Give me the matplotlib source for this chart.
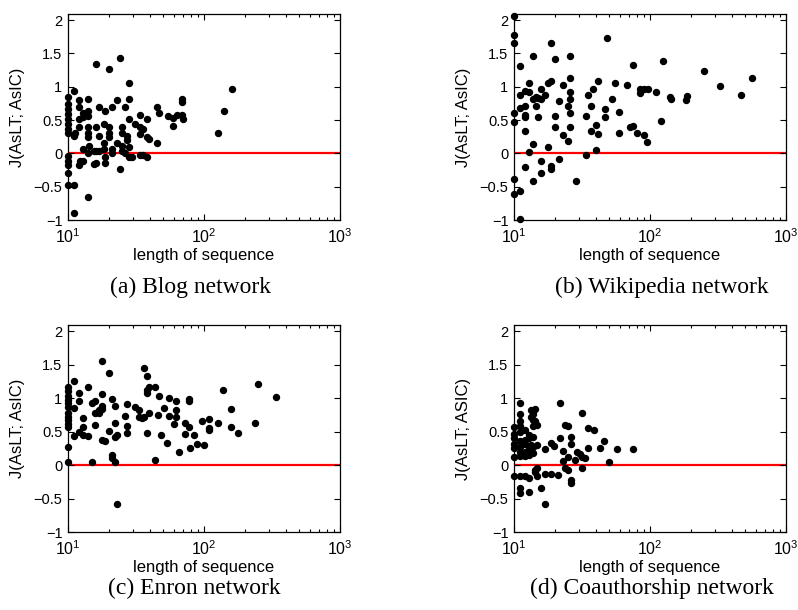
import numpy as np
import matplotlib
matplotlib.use("Agg")
import matplotlib.pyplot as plt
from matplotlib.ticker import LogLocator, FixedLocator

plt.rcParams['font.family'] = ['Liberation Sans', 'DejaVu Sans']
plt.rcParams['mathtext.default'] = 'regular'

# --- data: (length of sequence, J value) ---
blog_len = [10, 10, 10, 10, 10, 10, 10, 10, 10, 10, 10, 10, 10,
            11.0, 11.0, 11.0, 11.0, 11.2,
            12.0, 12.0, 12.0, 12.0, 12.0, 12.3,
            13.0, 13.0, 13.0, 13.0,
            14.0, 14.0, 14.0, 14.0, 14.0, 14.0, 14.0, 14.0, 14.2,
            15.4, 15.4, 16.1, 16.1, 16.1, 16.1,
            17.0, 17.0, 17.0, 18.3, 18.3, 18.3, 18.8, 18.8, 18.8,
            20.1, 20.1, 20.1, 20.1, 21.1, 21.1, 21.1, 22.9, 22.9,
            24.0, 24.0, 24.9, 24.9, 24.9, 24.9, 26.1, 26.1, 27.2, 27.2,
            28.2, 28.2, 28.2, 28.2, 28.2, 29.5, 31.2,
            34.0, 34.0, 34.0, 34.0, 35.4, 35.4, 38.1, 38.1, 38.1, 39.6,
            45.1, 45.1, 46.3, 54.7, 59.0, 58.7, 63.0,
            68.7, 68.7, 68.7, 69.5, 127, 140, 162]
blog_j = [0.84, 0.74, 0.66, 0.59, 0.51, 0.44, 0.36, 0.31, -0.04, -0.12, -0.17, -0.29, -0.47,
          0.94, 0.26, -0.47, -0.90, 0.31,
          0.80, 0.70, 0.51, 0.39, -0.17, -0.12,
          0.61, 0.54, 0.06, -0.12,
          0.81, 0.64, 0.56, 0.39, 0.31, 0.24, 0.01, -0.65, 0.11,
          0.04, -0.16, 1.34, 0.39, 0.03, -0.15,
          0.70, 0.26, 0.03, 0.44, 0.16, 0.06, 0.64, -0.06, -0.15,
          1.26, 0.39, 0.31, 0.24, 0.70, 0.06, 0.0, 0.80, 0.16,
          1.43, -0.23, 0.39, 0.31, 0.11, 0.04, 0.69, 0.01, 0.26, 0.20,
          1.06, 0.82, 0.51, 0.09, -0.06, -0.05, 0.44,
          0.58, 0.39, 0.29, -0.03, -0.02, 0.36, 0.51, 0.24, -0.06, 0.21,
          0.70, 0.16, 0.60, 0.56, 0.53, 0.41, 0.58,
          0.81, 0.77, 0.58, 0.51, 0.30, 0.63, 0.97]

wiki_len = [10, 10, 10, 10, 10, 10, 10,
            11.0, 11.0, 11.0, 11.0, 11.0,
            12.0, 12.0, 12.0, 12.0, 12.0, 12.0,
            13.0, 13.0, 13.0, 13.8, 13.8, 13.8, 13.8,
            14.6, 14.6, 15.0, 15.0, 15.9, 15.9, 15.9, 15.9, 16.8,
            17.8, 17.8, 18.6, 18.6, 18.6, 18.6, 19.9, 19.9, 19.9,
            21.6, 21.6, 22.9, 22.9, 24.9, 24.9,
            25.6, 25.6, 25.6, 25.6, 25.6, 25.6, 28.7,
            34.0, 34.0, 35.0, 36.6, 36.6, 38.1, 40.3, 40.3, 41.5, 41.5,
            46.3, 46.3, 48.5, 52.6, 55.6, 58.8, 58.8, 68.2, 70.9,
            75.0, 75.0, 80.8, 84.0, 84.0, 90.0, 90.0, 94.5,
            96, 110.7, 125, 120, 140, 142, 184, 186, 250, 329, 469, 563]
wiki_j = [2.06, 1.77, 1.66, 0.61, 0.47, -0.39, -0.61,
          1.31, 0.87, 0.68, -0.56, -0.99,
          0.93, 0.71, 0.57, 0.54, 0.34, -0.20,
          1.05, 0.92, 0.02, 1.46, 0.82, 0.14, -0.42,
          0.85, 0.71, 0.83, 0.55, 0.97, 0.82, -0.11, -0.29, 0.87,
          1.05, 0.10, 1.08, 1.65, -0.19, -0.24, 1.41, 0.56, 0.39,
          0.78, -0.09, 1.02, 0.28, 0.71, 0.18,
          0.39, 1.46, 1.13, 0.92, 0.81, 0.60, -0.41,
          -0.02, 0.56, 0.88, 0.71, 0.34, 0.97, 0.05, 0.43, 1.08, 0.29,
          0.54, 0.67, 1.73, 0.81, 1.05, 0.62, 0.31, 1.02, 0.39,
          1.33, 0.41, 0.31, 0.91, 0.96, 0.97, 0.27, 0.17,
          0.96, 0.92, 1.385, 0.49, 0.85, 0.81, 0.80, 0.86, 1.235, 1.01, 0.87, 1.13]

enron_len = [10, 10, 10, 10, 10, 10, 10, 10, 10, 10, 10, 10, 10,
             11.0, 11.0, 11.0, 12.0, 12.0, 12.0, 12.8, 12.8, 12.8,
             14.0, 14.0, 15.0, 15.0, 15.9, 15.9, 15.9, 17.0, 17.0,
             17.8, 17.8, 17.8, 17.8, 17.8, 18.8, 20.1, 20.1,
             21.1, 21.1, 21.1, 22.0, 22.0, 22.0, 22.0, 22.9, 22.9,
             26.1, 27.2, 27.2, 27.2, 31.2, 33.4, 33.4, 35.0, 36.0, 36.0,
             38.1, 38.1, 38.1, 38.1, 39.6, 39.6, 43.3, 43.3, 45.9, 46.9,
             48.5, 50.5, 53.4, 55.0, 55.0, 59.8, 62.2, 62.2, 62.2, 65.9,
             73.0, 73.0, 77.2, 77.2, 77.2, 79.4, 84.0, 88.6, 97,
             100, 109, 109, 109, 127, 138, 159, 159, 178, 238, 250, 338]
enron_j = [1.17, 1.11, 1.03, 0.97, 0.92, 0.86, 0.78, 0.72, 0.67, 0.61, 0.56, 0.27, 0.05,
           1.25, 0.85, 0.43, 1.08, 0.95, 0.50, 0.70, 0.57, 0.45,
           1.17, 0.43, 0.92, 0.05, 0.95, 0.78, 0.60, 0.78, 0.82,
           1.56, 1.06, 0.88, 0.83, 0.38, 0.36, 1.38, 0.51,
           0.98, 0.15, 0.10, 0.88, 0.62, 0.42, 0.05, 0.45, -0.58,
           0.73, 0.91, 0.58, 0.48, 0.86, 0.72, 0.82, 0.70, 1.45, 0.71,
           1.33, 1.12, 1.08, 0.48, 1.17, 0.78, 1.17, 0.08, 0.75, 1.03,
           0.45, 0.85, 0.33, 1.00, 0.73, 0.61, 0.96, 0.71, 0.82, 0.20,
           0.47, 0.63, 0.99, 0.95, 0.57, 0.26, 0.45, 0.31, 0.66,
           0.30, 0.68, 0.55, 0.52, 0.62, 1.12, 0.83, 0.57, 0.48, 0.62, 1.21, 1.02]

coauth_len = [10, 10, 10, 10, 10, 10, 10,
              11.0, 11.0, 11.0, 11.0, 11.0, 11.0, 11.0, 11.0, 11.0, 11.0, 11.0, 11.0,
              12.0, 12.0, 12.0, 12.0, 12.0, 12.0,
              12.8, 12.8, 12.8, 12.8, 12.8, 12.8,
              13.4, 13.4, 13.4, 13.4, 13.8, 13.8, 13.8, 13.8, 13.8, 13.8,
              14.2, 14.2, 14.2, 14.2, 14.8, 14.8, 14.8, 14.8, 15.9,
              17.0, 17.0, 17.0, 18.8, 18.8, 19.7, 21.1, 21.9, 21.9,
              22.9, 22.9, 23.8, 23.8, 24.9, 24.9, 24.9,
              26.4, 26.4, 26.4, 26.4, 27.9, 29.2, 30.4, 31.6, 31.6, 31.6,
              33.4, 35.0, 35.0, 38.7, 42.7, 45.9, 49.7, 57.5, 75.5]
coauth_j = [0.56, 0.47, 0.40, 0.32, 0.25, 0.12, -0.17,
            0.92, 0.76, 0.65, 0.58, 0.50, 0.36, 0.27, 0.20, 0.13, -0.17, -0.35, -0.42,
            0.52, 0.37, 0.31, 0.20, 0.13, -0.17,
            0.45, 0.40, 0.27, 0.15, -0.20, -0.41,
            0.72, 0.82, 0.30, 0.20, 0.76, 0.67, 0.58, 0.42, 0.27, 0.18,
            0.83, 0.65, -0.07, -0.10, 0.60, 0.30, -0.05, -0.17, -0.35,
            0.24, -0.13, -0.58, 0.33, -0.13, 0.28, -0.15, 0.92, 0.41,
            0.21, 0.06, 0.60, -0.05, 0.58, 0.12, -0.08,
            0.42, 0.32, -0.23, -0.27, 0.07, 0.20, 0.17, 0.77, 0.12, -0.05,
            0.10, 0.55, 0.26, 0.52, 0.25, 0.36, 0.05, 0.24, 0.24]

captions = ['(a) Blog network', '(b) Wikipedia network',
            '(c) Enron network', '(d) Coauthorship network']
ylabels = ['J(AsLT; AsIC)', 'J(AsLT; AsIC)', 'J(AsLT; AsIC)', 'J(AsLT; ASIC)']
y_ticks = [-1, -0.5, 0, 0.5, 1, 1.5, 2]
y_tick_labels = ['\u22121', '\u22120.5', '0', '0.5', '1', '1.5', '2']

panels = [(blog_len, blog_j), (wiki_len, wiki_j),
          (enron_len, enron_j), (coauth_len, coauth_j)]

fig = plt.figure(figsize=(7.98, 6.10), dpi=100)
W, H = 798.0, 610.0
# axes boxes in pixels: left, top, right, bottom
boxes = [(68, 14, 340, 220), (514, 14, 786, 220),
         (68, 325, 340, 532), (514, 325, 786, 532)]
cap_pos = [(190, 287), (662, 287), (194, 588), (652, 588)]

for i, ((xs, ys), box) in enumerate(zip(panels, boxes)):
    l, t, r, b = box
    ax = fig.add_axes([l / W, 1 - b / H, (r - l) / W, (b - t) / H])
    ax.axhline(0, color='#ff0000', lw=1.6, zorder=1)
    ax.plot(xs, ys, 'o', color='black', ms=4.3, mec='black', zorder=2, clip_on=False)
    ax.set_xscale('log')
    ax.set_xlim(10, 1000)
    ax.set_ylim(-1, 2.09)
    ax.yaxis.set_major_locator(FixedLocator(y_ticks))
    ax.set_yticklabels(y_tick_labels)
    ax.xaxis.set_major_locator(LogLocator(base=10, numticks=5))
    ax.xaxis.set_minor_locator(LogLocator(base=10, subs=np.arange(2, 10), numticks=20))
    ax.tick_params(which='both', direction='in', top=True, right=True,
                   width=0.8)
    ax.tick_params(axis='x', labelsize=11.5, pad=5)
    ax.tick_params(axis='y', labelsize=10.5, pad=4)
    ax.tick_params(which='major', length=4)
    ax.tick_params(which='minor', length=2.2)
    for s in ax.spines.values():
        s.set_linewidth(0.9)
    ax.set_xlabel('length of sequence', fontsize=12, labelpad=2)
    ax.set_ylabel(ylabels[i], fontsize=12, labelpad=6)
    cx, cy = cap_pos[i]
    fig.text(cx / W, 1 - cy / H, captions[i], ha='center', va='center',
             fontsize=17, family='Liberation Serif')

fig.savefig('out.png', dpi=100)
